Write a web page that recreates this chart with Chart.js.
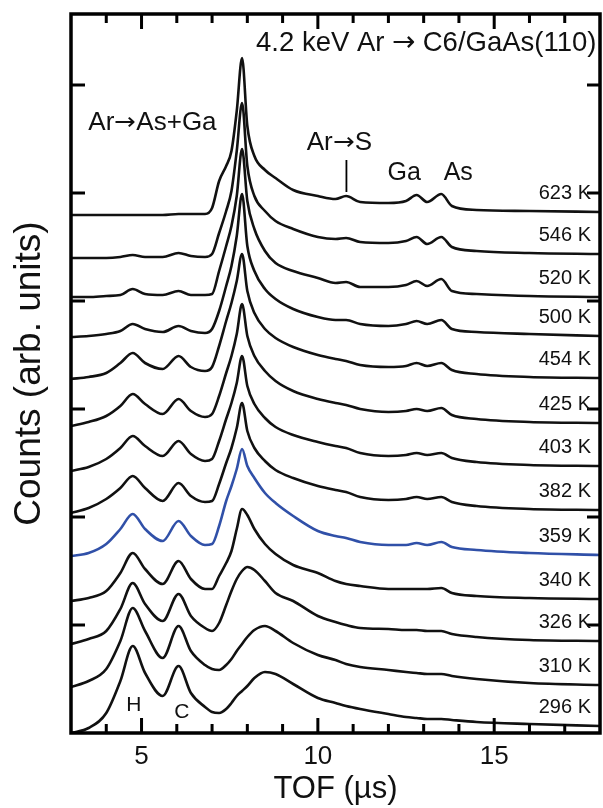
<!DOCTYPE html>
<html>
<head>
<meta charset="utf-8">
<script src="https://cdn.jsdelivr.net/npm/chart.js@4/dist/chart.umd.min.js"></script>
<style>
  @font-face { font-family: 'ArrowFix'; src: local('DejaVu Sans'); unicode-range: U+2192; }
  body { margin: 0; background: #fff; }
  canvas { display: block; }
</style>
</head>
<body>
<canvas id="myChart" width="603" height="808"></canvas>
<script>
// time of flight grid (µs), shared by all spectra
const tof = [3.0, 3.5, 4.0, 4.4, 4.75, 5.1, 5.6, 6.05, 6.4, 6.8, 7.0, 7.2, 7.4, 7.55, 7.7, 7.85, 8.0, 8.2, 8.5, 8.8,
             9.3, 10.0, 10.5, 10.8, 11.2, 12.0, 12.5, 12.8, 13.1, 13.5, 13.8, 14.5, 16.0, 18.0];

// counts (arb. units, spectra already offset), top to bottom
const temps = ['623 K', '546 K', '520 K', '500 K', '454 K', '425 K', '403 K', '382 K', '359 K', '340 K', '326 K', '310 K', '296 K'];
const c623 = [518,518,518,518,518,518,518,519,519,519,525,552,567,582,622,675,607,577,563,555,543,537,534,537,531,530,532,538,531,539,527,523,522,521];
const c546 = [475,475,475,476,478,476,476,480,477,476,479,500,522,542,582,630,567,537,522,512,504,496,494,495,491,490,492,496,489,496,486,482,480,479];
const c520 = [436,436,437,438,444,439,438,442,438,438,439,462,487,507,537,584,532,504,482,470,462,455,450,451,446,446,448,452,447,454,442,439,437,436];
const c500 = [396,397,399,402,409,404,401,407,402,400,404,422,447,467,497,539,487,462,444,434,424,416,413,413,409,407,409,412,409,413,404,401,399,397];
const c454 = [354,356,360,370,380,370,364,377,366,362,366,387,412,430,452,479,442,420,404,395,386,378,374,372,368,366,367,370,367,370,363,359,356,355];
const c425 = [307,311,317,327,339,329,319,334,322,316,319,337,360,377,399,429,397,377,362,352,342,334,330,328,324,321,322,324,322,325,318,314,311,310];
const c403 = [262,266,274,285,297,287,277,292,279,272,274,292,314,330,350,377,347,329,315,306,298,291,287,285,280,277,278,280,278,280,275,271,268,267];
const c382 = [220,225,234,245,257,245,232,250,237,231,232,249,270,285,305,330,302,285,272,263,255,247,243,241,236,233,234,236,234,236,231,227,224,223];
const c359 = [177,180,189,204,219,204,192,212,197,188,189,207,232,247,264,284,267,255,240,230,217,202,197,195,191,188,188,190,188,191,186,183,180,178];
const c340 = [132,135,142,160,180,164,149,172,154,144,144,157,170,182,204,224,218,204,189,179,168,160,152,149,147,144,144,144,144,145,140,137,135,134];
const c326 = [89,94,102,124,150,129,112,139,117,105,102,110,128,142,154,162,166,163,152,140,132,117,111,108,105,104,103,103,102,102,99,96,93,92];
const c310 = [46,52,64,92,125,102,75,107,82,68,64,63,68,74,82,89,96,103,107,102,90,78,73,69,66,63,61,60,59,59,57,54,50,48];
const c296 = [0,5,20,52,87,60,37,67,40,26,21,20,24,30,37,42,47,55,61,59,49,35,30,27,24,19,16,15,14,14,13,11,9,7];
const spectra = [c623, c546, c520, c500, c454, c425, c403, c382, c359, c340, c326, c310, c296];

// axis ticks
const xLabelTicks = [5, 10, 15];
const xMinorTicks = [4, 6, 7, 8, 9, 11, 12, 13, 14, 16, 17];
const yTicks = [108, 216, 324, 432, 540, 648];

const FONT = "Arial, 'Liberation Sans', sans-serif";
const ANNO_FONT = "ArrowFix, Arial, 'Liberation Sans', sans-serif";
const highlight = '359 K';

const annotations = [
  { text: '4.2 keV Ar \u2192 C6/GaAs(110)', x: 17.9, y: 690, size: 27.5, align: 'right' },
  { text: 'Ar\u2192As+Ga', x: 5.31, y: 610, size: 26, align: 'center' },
  { text: 'Ar\u2192S', x: 10.61, y: 590, size: 26, align: 'center' },
  { text: 'Ga', x: 12.45, y: 560, size: 25, align: 'center' },
  { text: 'As', x: 13.98, y: 560, size: 25, align: 'center' },
  { text: 'H', x: 4.78, y: 28, size: 21, align: 'center' },
  { text: 'C', x: 6.14, y: 21, size: 21, align: 'center' }
];

const decor = {
  id: 'decor',
  afterDatasetsDraw(chart) {
    const { ctx, chartArea: a, scales: { x, y } } = chart;
    ctx.save();
    ctx.strokeStyle = '#000';
    ctx.fillStyle = '#111';

    // frame
    ctx.lineWidth = 3.5;
    ctx.strokeRect(a.left, a.top, a.right - a.left, a.bottom - a.top);

    // inward ticks
    ctx.lineWidth = 3;
    ctx.beginPath();
    const xt = (v, len) => {
      const px = x.getPixelForValue(v);
      ctx.moveTo(px, a.bottom); ctx.lineTo(px, a.bottom - len);
      ctx.moveTo(px, a.top); ctx.lineTo(px, a.top + len);
    };
    xLabelTicks.forEach(v => xt(v, 15));
    xMinorTicks.forEach(v => xt(v, 9));
    yTicks.forEach(v => {
      const py = y.getPixelForValue(v);
      ctx.moveTo(a.left, py); ctx.lineTo(a.left + 14, py);
      ctx.moveTo(a.right, py); ctx.lineTo(a.right - 13, py);
    });
    ctx.stroke();

    // temperature labels above the tail of each spectrum
    ctx.font = '20px ' + FONT;
    ctx.textAlign = 'right';
    ctx.textBaseline = 'middle';
    chart.data.datasets.forEach(ds => {
      const last = ds.data[ds.data.length - 1];
      ctx.fillText(ds.label, a.right - 9, y.getPixelForValue(last.y) - 19);
    });

    // peak annotations
    annotations.forEach(n => {
      ctx.font = n.size + 'px ' + ANNO_FONT;
      ctx.textAlign = n.align;
      ctx.fillText(n.text, x.getPixelForValue(n.x), y.getPixelForValue(n.y));
    });

    // Ar->S marker
    ctx.lineWidth = 1.8;
    ctx.beginPath();
    ctx.moveTo(x.getPixelForValue(10.81), y.getPixelForValue(573));
    ctx.lineTo(x.getPixelForValue(10.81), y.getPixelForValue(541));
    ctx.stroke();
    ctx.restore();
  }
};

function drawChart() {
  const ctx = document.getElementById('myChart').getContext('2d');
  return new Chart(ctx, {
    type: 'line',
    data: {
      datasets: spectra.map((s, i) => ({
        label: temps[i],
        data: s.map((v, j) => ({ x: tof[j], y: v })),
        borderColor: temps[i] === highlight ? '#3050a8' : '#111',
        borderWidth: 2.6,
        pointRadius: 0,
        fill: false,
        cubicInterpolationMode: 'monotone'
      }))
    },
    options: {
      responsive: false,
      devicePixelRatio: 1,
      animation: false,
      layout: { padding: { top: 14, right: 3, left: 0, bottom: 0 } },
      plugins: { legend: { display: false }, tooltip: { enabled: false } },
      scales: {
        x: {
          type: 'linear',
          min: 3,
          max: 18,
          grid: { display: false, drawTicks: false },
          border: { display: false },
          afterBuildTicks: scale => { scale.ticks = xLabelTicks.map(v => ({ value: v })); },
          afterFit: scale => { scale.height = 75; },
          ticks: { color: '#111', font: { family: FONT, size: 26 }, padding: 8, maxRotation: 0 },
          title: { display: true, text: 'TOF (\u00b5s)', color: '#111', font: { family: FONT, size: 31 }, padding: 0 }
        },
        y: {
          min: 0,
          max: 719,
          grid: { display: false, drawTicks: false },
          border: { display: false },
          ticks: { display: false },
          afterFit: scale => { scale.width = 71; },
          title: { display: true, text: 'Counts (arb. units)', color: '#111', font: { family: FONT, size: 37 }, padding: { top: 8, bottom: 0 } }
        }
      }
    },
    plugins: [decor]
  });
}

let myChart;
document.fonts.load('25px ArrowFix', '\u2192')
  .catch(() => null)
  .then(() => { myChart = drawChart(); });
</script>
</body>
</html>
